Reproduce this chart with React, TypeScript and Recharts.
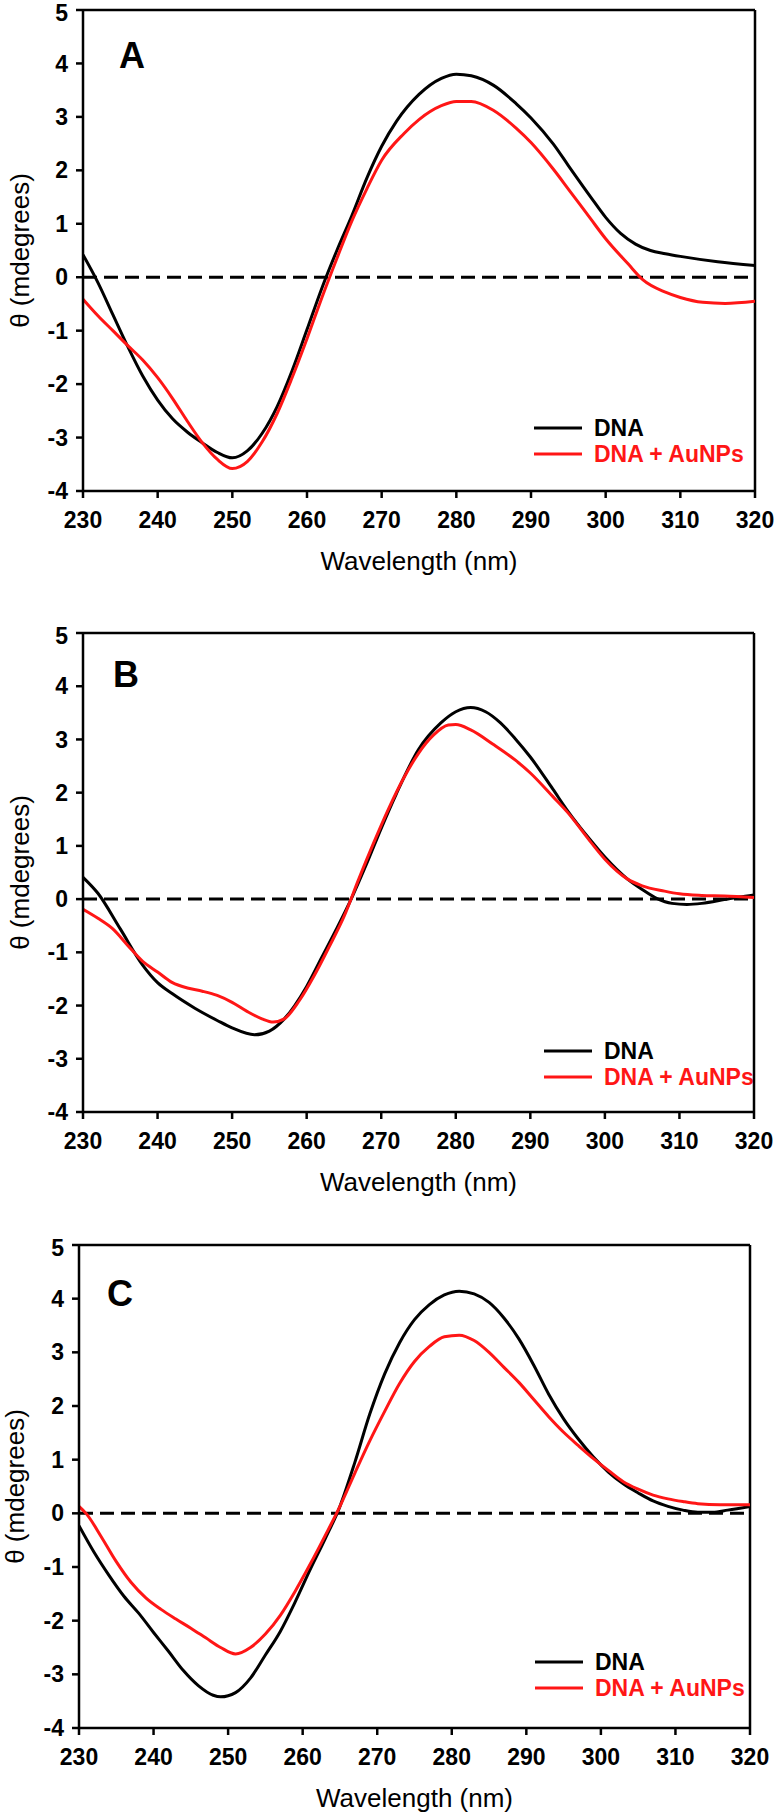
import { LineChart, Line, XAxis, YAxis, ReferenceLine } from "recharts";

// wavelength axis and θ axis ticks
const xTicks = [230, 240, 250, 260, 270, 280, 290, 300, 310, 320];
const yTicks = [-4, -3, -2, -1, 0, 1, 2, 3, 4, 5];

// panel A
const aWlDna = [230, 232, 234, 236, 238, 240, 242, 244, 246, 248, 250, 252, 254, 256, 258, 260, 262, 264, 266, 268, 270, 272, 275, 278, 280, 282, 285, 288, 290, 293, 295, 298, 300, 302, 304, 306, 308, 310, 315, 320];
const aDna = [0.42, -0.1, -0.7, -1.3, -1.85, -2.3, -2.65, -2.9, -3.1, -3.28, -3.38, -3.25, -2.92, -2.42, -1.75, -0.98, -0.2, 0.5, 1.15, 1.85, 2.45, 2.92, 3.42, 3.72, 3.8, 3.77, 3.59, 3.25, 2.98, 2.49, 2.09, 1.5, 1.12, 0.82, 0.62, 0.5, 0.44, 0.39, 0.29, 0.22];
const aWlAu = [230, 232, 234, 236, 238, 240, 242, 244, 246, 248, 250, 252, 254, 256, 258, 260, 262, 264, 266, 268, 270, 273, 275, 278, 280, 282, 285, 288, 290, 293, 295, 298, 300, 303, 305, 308, 310, 313, 316, 320];
const aAu = [-0.41, -0.72, -1.0, -1.28, -1.55, -1.88, -2.27, -2.7, -3.1, -3.41, -3.58, -3.45, -3.08, -2.55, -1.88, -1.15, -0.38, 0.35, 1.05, 1.65, 2.19, 2.69, 2.95, 3.21, 3.29, 3.29, 3.12, 2.79, 2.52, 2.02, 1.65, 1.09, 0.72, 0.25, -0.05, -0.28, -0.38, -0.47, -0.49, -0.45];

// panel B
const bWlDna = [230, 232, 235, 238, 240, 242, 245, 248, 250, 253, 255, 257, 260, 262, 264, 266, 268, 270, 272, 275, 278, 280, 282, 284, 286, 288, 290, 293, 295, 298, 300, 303, 305, 307, 309, 311, 313, 316, 318, 320];
const bDna = [0.41, 0.11, -0.56, -1.24, -1.57, -1.78, -2.05, -2.28, -2.42, -2.55, -2.48, -2.25, -1.64, -1.1, -0.56, 0.01, 0.65, 1.33, 1.97, 2.81, 3.31, 3.52, 3.6, 3.52, 3.31, 3.01, 2.67, 2.07, 1.66, 1.12, 0.79, 0.38, 0.18, 0.01, -0.08, -0.1, -0.08, -0.01, 0.04, 0.08];
const bWlAu = [230, 232, 234, 236, 238, 240, 242, 244, 246, 248, 250, 252, 254, 255.5, 257, 259, 261, 263, 265, 267, 269, 271, 273, 275, 277, 279, 280, 282, 285, 288, 290, 293, 295, 298, 300, 303, 305, 308, 310, 313, 316, 320];
const bAu = [-0.19, -0.36, -0.56, -0.87, -1.17, -1.37, -1.57, -1.67, -1.73, -1.81, -1.94, -2.11, -2.25, -2.31, -2.25, -1.91, -1.44, -0.9, -0.33, 0.38, 1.06, 1.7, 2.27, 2.74, 3.08, 3.27, 3.28, 3.18, 2.91, 2.61, 2.37, 1.93, 1.63, 1.09, 0.75, 0.38, 0.25, 0.15, 0.1, 0.07, 0.06, 0.03];

// panel C
const cWlDna = [230, 232, 234, 236, 238, 240, 242, 244, 246, 248, 249, 251, 253, 255, 257, 259, 261, 263, 265, 267, 269, 271, 273, 275, 277, 279, 281, 283, 285, 287, 289, 291, 293, 295, 297, 299, 301, 303, 305, 307, 309, 311, 313, 315, 317, 320];
const cDna = [-0.23, -0.72, -1.15, -1.54, -1.86, -2.22, -2.57, -2.93, -3.21, -3.39, -3.42, -3.34, -3.07, -2.64, -2.2, -1.65, -1.05, -0.48, 0.13, 0.95, 1.85, 2.6, 3.18, 3.61, 3.89, 4.07, 4.14, 4.09, 3.93, 3.64, 3.25, 2.76, 2.22, 1.76, 1.38, 1.05, 0.77, 0.55, 0.38, 0.23, 0.13, 0.06, 0.02, 0.02, 0.06, 0.13];
const cWlAu = [230, 231, 233, 235, 237, 239, 241, 243, 245, 247, 249, 251, 253, 255, 257, 259, 261, 263, 265, 267, 269, 271, 273, 275, 277, 279, 281, 283, 285, 287, 289, 291, 293, 295, 297, 299, 301, 303, 305, 307, 309, 311, 313, 316, 320];
const cAu = [0.13, -0.01, -0.44, -0.9, -1.29, -1.58, -1.79, -1.97, -2.14, -2.32, -2.5, -2.62, -2.5, -2.25, -1.9, -1.45, -0.95, -0.42, 0.13, 0.75, 1.35, 1.9, 2.42, 2.83, 3.11, 3.29, 3.32, 3.22, 3.0, 2.72, 2.44, 2.12, 1.8, 1.51, 1.26, 1.02, 0.8, 0.59, 0.45, 0.34, 0.27, 0.22, 0.18, 0.16, 0.16];

const toPts = (xs: number[], ys: number[]) => xs.map((x, i) => ({ x, y: ys[i] }));

const FONT = "'Liberation Sans', Arial, sans-serif";
const NARROW = "'Liberation Sans Narrow', 'Arial Narrow', 'Liberation Sans', sans-serif";
const RED = "#ff1616";

const tickStyle = { fill: "#000", fontSize: 23, fontWeight: 700, fontFamily: NARROW };
const axisStroke = { stroke: "#000", strokeWidth: 2.5 };

type PanelProps = {
  top: number;
  height: number;
  left: number;
  right: number;
  plotH: number;
  letter: string;
  letterX: number;
  letterY: number;
  yLabelX: number;
  legX: number;
  legY: number;
  dna: { x: number; y: number }[];
  au: { x: number; y: number }[];
};

const Panel = (p: PanelProps) => {
  const plotTop = 10;
  const cy = plotTop + p.plotH / 2;
  const cx = (p.left + p.right) / 2;
  const xLabelY = plotTop + p.plotH + 70;
  return (
    <div style={{ position: "absolute", left: 0, top: p.top }}>
      <LineChart
        width={774}
        height={p.height}
        margin={{ top: plotTop, right: 774 - p.right, left: 0, bottom: 0 }}
      >
        <XAxis
          type="number"
          dataKey="x"
          domain={[230, 320]}
          ticks={xTicks}
          allowDataOverflow
          height={p.height - plotTop - p.plotH}
          tickSize={7}
          tickMargin={14}
          axisLine={axisStroke}
          tickLine={axisStroke}
          tick={tickStyle}
        />
        <YAxis
          type="number"
          dataKey="y"
          domain={[-4, 5]}
          ticks={yTicks}
          allowDataOverflow
          width={p.left}
          tickSize={7}
          tickMargin={8}
          axisLine={axisStroke}
          tickLine={axisStroke}
          tick={tickStyle}
        />
        <ReferenceLine y={5} stroke="#000" strokeWidth={2.5} />
        <ReferenceLine x={320} stroke="#000" strokeWidth={2.5} />
        <ReferenceLine y={0} stroke="#000" strokeWidth={3} strokeDasharray="14 7" />
        <Line
          data={p.dna}
          dataKey="y"
          type="monotone"
          stroke="#000"
          strokeWidth={3}
          dot={false}
          isAnimationActive={false}
        />
        <Line
          data={p.au}
          dataKey="y"
          type="monotone"
          stroke={RED}
          strokeWidth={3}
          dot={false}
          isAnimationActive={false}
        />
        <text
          x={p.letterX}
          y={p.letterY}
          textAnchor="middle"
          fontSize={36}
          fontWeight={700}
          fontFamily={FONT}
          fill="#000"
        >
          {p.letter}
        </text>
        <text
          x={p.yLabelX}
          y={cy}
          transform={`rotate(-90 ${p.yLabelX} ${cy})`}
          textAnchor="middle"
          dominantBaseline="central"
          fontSize={26}
          fontFamily={FONT}
          fill="#000"
        >
          θ (mdegrees)
        </text>
        <text
          x={cx}
          y={xLabelY}
          textAnchor="middle"
          dominantBaseline="central"
          fontSize={26}
          fontFamily={FONT}
          fill="#000"
        >
          Wavelength (nm)
        </text>
        <line x1={p.legX} x2={p.legX + 48} y1={p.legY} y2={p.legY} stroke="#000" strokeWidth={3} />
        <text
          x={p.legX + 60}
          y={p.legY}
          dominantBaseline="central"
          fontSize={23}
          fontWeight={700}
          fontFamily={NARROW}
          fill="#000"
        >
          DNA
        </text>
        <line x1={p.legX} x2={p.legX + 48} y1={p.legY + 26} y2={p.legY + 26} stroke={RED} strokeWidth={3} />
        <text
          x={p.legX + 60}
          y={p.legY + 26}
          dominantBaseline="central"
          fontSize={23}
          fontWeight={700}
          fontFamily={NARROW}
          fill={RED}
        >
          DNA + AuNPs
        </text>
      </LineChart>
    </div>
  );
};

export default function App() {
  return (
    <div style={{ position: "absolute", left: 0, top: 0, width: 774, height: 1817, background: "#fff" }}>
      <Panel
        top={0}
        height={600}
        left={83}
        right={755}
        plotH={481}
        letter="A"
        letterX={132}
        letterY={68}
        yLabelX={20}
        legX={534}
        legY={428}
        dna={toPts(aWlDna, aDna)}
        au={toPts(aWlAu, aAu)}
      />
      <Panel
        top={623}
        height={600}
        left={83}
        right={754}
        plotH={479}
        letter="B"
        letterX={126}
        letterY={64}
        yLabelX={20}
        legX={544}
        legY={428}
        dna={toPts(bWlDna, bDna)}
        au={toPts(bWlAu, bAu)}
      />
      <Panel
        top={1235}
        height={582}
        left={79}
        right={750}
        plotH={483}
        letter="C"
        letterX={120}
        letterY={71}
        yLabelX={15}
        legX={535}
        legY={427}
        dna={toPts(cWlDna, cDna)}
        au={toPts(cWlAu, cAu)}
      />
    </div>
  );
}
